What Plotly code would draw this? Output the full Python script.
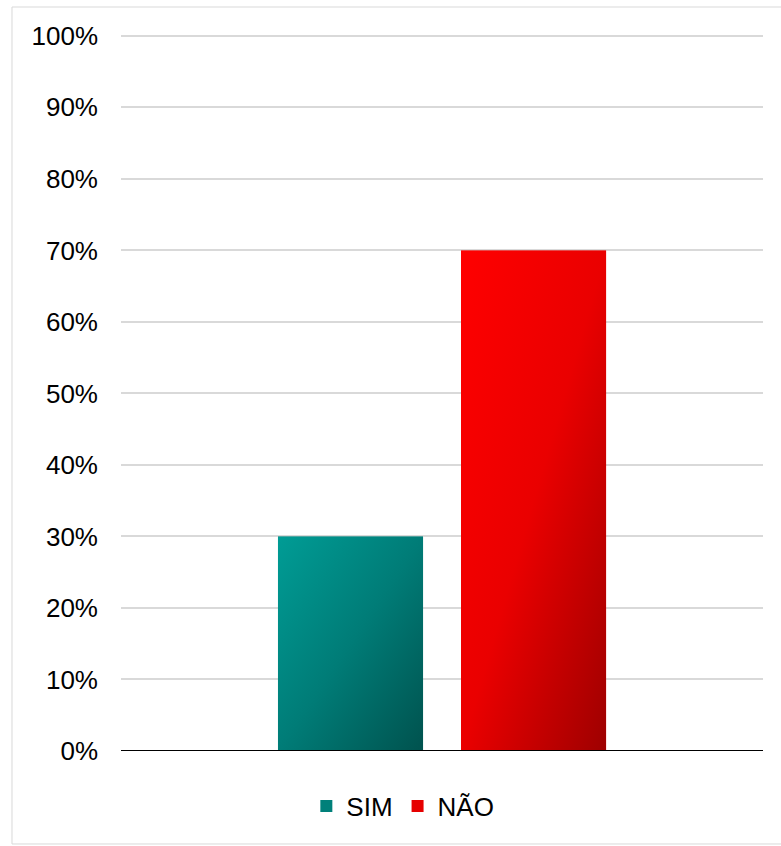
import base64
import plotly.graph_objects as go

# Survey answers (share of respondents)
SERIES = ["SIM", "NÃO"]
VALUES = [0.30, 0.70]
TICK_VALUES = [0.0, 0.1, 0.2, 0.3, 0.4, 0.5, 0.6, 0.7, 0.8, 0.9, 1.0]

# Diagonal gradient colours per series: start, middle, end
GRADIENTS = [
    ("#009c95", "#007c77", "#00524e"),
    ("#ff0000", "#ea0000", "#9e0000"),
]
SOLID = ["#00807a", "#e60000"]

# Bar geometry on a linear x axis spanning [-0.5, 0.5]
BAR_W = 0.226
OFFSETS = [-0.2555, 0.0296]

FONT = "Liberation Sans, Arial, sans-serif"


def gradient_uri(c0, cm, c1):
    svg = (
        '<svg xmlns="http://www.w3.org/2000/svg" width="100" height="100" '
        'viewBox="0 0 100 100" preserveAspectRatio="none">'
        '<defs><linearGradient id="g" x1="0" y1="0" x2="1" y2="1">'
        f'<stop offset="0" stop-color="{c0}"/>'
        f'<stop offset="0.5" stop-color="{cm}"/>'
        f'<stop offset="1" stop-color="{c1}"/>'
        '</linearGradient></defs>'
        '<rect width="100" height="100" fill="url(#g)"/></svg>'
    )
    return "data:image/svg+xml;base64," + base64.b64encode(svg.encode()).decode()


fig = go.Figure()
images = []
for name, val, off, grad, solid in zip(SERIES, VALUES, OFFSETS, GRADIENTS, SOLID):
    fig.add_trace(go.Bar(
        x=[0], y=[val], name=name,
        width=BAR_W, offset=off,
        marker=dict(color=solid, line=dict(width=0)),
    ))
    images.append(dict(
        source=gradient_uri(*grad),
        xref="x", yref="y",
        x=off, y=val, sizex=BAR_W, sizey=val,
        xanchor="left", yanchor="top",
        sizing="stretch", layer="above",
    ))

Y_TOP = 1.004  # small headroom so the 100% gridline is not clipped

fig.update_layout(
    width=781, height=846,
    margin=dict(l=121, r=18, t=33, b=95),
    paper_bgcolor="white", plot_bgcolor="white",
    font=dict(family=FONT, size=26, color="#000000"),
    barmode="overlay",
    images=images,
    showlegend=True,
    legend=dict(
        orientation="h", x=0.439, xanchor="center", y=-0.0766, yanchor="middle",
        font=dict(family=FONT, size=26, color="#000000"),
        itemwidth=30, traceorder="normal",
    ),
    xaxis=dict(
        type="linear", range=[-0.5, 0.5],
        showticklabels=False, showgrid=False, zeroline=False, showline=False,
        fixedrange=True,
    ),
    yaxis=dict(
        range=[0, Y_TOP], tickvals=TICK_VALUES, tickformat=".0%",
        showgrid=True, gridcolor="#d9d9d9", gridwidth=2,
        zeroline=False, showline=False, ticks="",
        ticklabelstandoff=22,
        tickfont=dict(family=FONT, size=26, color="#000000"),
    ),
    shapes=[
        # baseline at 0%
        dict(type="line", xref="paper", yref="y", x0=0, x1=1, y0=0, y1=0,
             line=dict(color="#000000", width=2), layer="above"),
        # outer chart frame
        dict(type="rect", xref="paper", yref="paper",
             x0=-0.1698, x1=1.2, y0=-0.1295, y1=1.0362,
             line=dict(color="#d9d9d9", width=1), layer="below"),
    ],
)

fig.write_html("out.html")
